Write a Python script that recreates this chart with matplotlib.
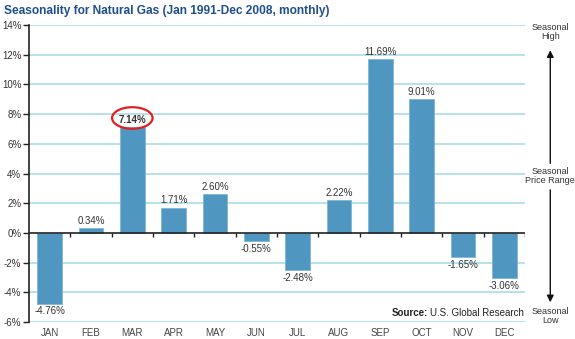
import matplotlib
matplotlib.use("Agg")
import matplotlib.pyplot as plt
from matplotlib.patches import Ellipse, FancyArrowPatch
import numpy as np

months = ["JAN", "FEB", "MAR", "APR", "MAY", "JUN", "JUL", "AUG", "SEP", "OCT", "NOV", "DEC"]
values = [-4.76, 0.34, 7.14, 1.71, 2.60, -0.55, -2.48, 2.22, 11.69, 9.01, -1.65, -3.06]
labels = ["-4.76%", "0.34%", "7.14%", "1.71%", "2.60%", "-0.55%", "-2.48%", "2.22%", "11.69%", "9.01%", "-1.65%", "-3.06%"]
yticks = [-6, -4, -2, 0, 2, 4, 6, 8, 10, 12, 14]
title = "Seasonality for Natural Gas (Jan 1991-Dec 2008, monthly)"
highlight = "MAR"

plt.rcParams["font.family"] = ["Liberation Sans", "DejaVu Sans"]

fig = plt.figure(figsize=(5.75, 3.39), dpi=100)
ax = fig.add_axes([0.0504, 0.0501, 0.8626, 0.8761])

x = np.arange(len(months))
bar_color = "#4f97c0"
ax.bar(x, values, width=0.6, color=bar_color, edgecolor="#7fb8d6", linewidth=0.6, zorder=3)

ax.set_xlim(-0.5, len(months) - 0.5)
ax.set_ylim(-6, 14)
ax.set_yticks(yticks)
ax.set_yticklabels([f"{t}%" for t in yticks], fontsize=7, color="#333333")
for t in yticks:
    if t != 0:
        ax.axhline(t, color="#a9dbe7", linewidth=1.2, zorder=1)
ax.axhline(0, color="#222222", linewidth=1.2, zorder=4)

bounds = np.arange(len(months) + 1) - 0.5
ax.vlines(bounds[1:], -0.25, 0, color="#222222", linewidth=1.0, zorder=4)

ax.set_xticks(x)
ax.set_xticklabels(months, fontsize=7, color="#444444")
ax.tick_params(axis="x", length=0, pad=4)
ax.tick_params(axis="y", length=4, width=1, color="#222222", pad=1.5)

for s in ["top", "right", "bottom"]:
    ax.spines[s].set_visible(False)
ax.spines["left"].set_color("#222222")
ax.spines["left"].set_linewidth(1.2)

hi = months.index(highlight)
for i, (xi, v, lab) in enumerate(zip(x, values, labels)):
    fw = "bold" if i == hi else "normal"
    if v >= 0:
        ax.annotate(lab, (xi, v), xytext=(0, 1.5), textcoords="offset points",
                    ha="center", va="bottom", fontsize=7, color="#333333", zorder=5,
                    fontweight=fw)
    else:
        ax.annotate(lab, (xi, v), xytext=(0, -2), textcoords="offset points",
                    ha="center", va="top", fontsize=7, color="#333333", zorder=5)

ax.add_patch(Ellipse((hi, values[hi] + 0.6), 0.98, 1.45, fill=False,
                     edgecolor="#e02020", linewidth=1.6, zorder=6))

fig.text(0.007, 0.968, title, fontsize=8.6, fontweight="bold", color="#1f4e8c",
         ha="left", va="center")

# Source
src = ax.text(0.998, 0.012, "U.S. Global Research", transform=ax.transAxes, ha="right",
              va="bottom", fontsize=7, color="#222222")
fig.canvas.draw()
bb = src.get_window_extent(renderer=fig.canvas.get_renderer())
fig.text(bb.x0 / fig.bbox.width - 0.004, bb.y0 / fig.bbox.height, "Source:", ha="right",
         va="bottom", fontsize=7, fontweight="bold", color="#222222")

# Right annotation
xr = 0.957
for yy, txt in [(0.905, "Seasonal\nHigh"), (0.48, "Seasonal\nPrice Range"), (0.068, "Seasonal\nLow")]:
    fig.text(xr, yy, txt, ha="center", va="center", fontsize=6.5,
             color="#333333", linespacing=0.95)
fig.add_artist(FancyArrowPatch((xr, 0.51), (xr, 0.86),
               transform=fig.transFigure, arrowstyle="-|>,head_length=4,head_width=2",
               color="#111111", linewidth=1))
fig.add_artist(FancyArrowPatch((xr, 0.448), (xr, 0.10),
               transform=fig.transFigure, arrowstyle="-|>,head_length=4,head_width=2",
               color="#111111", linewidth=1))

fig.savefig("out.png", dpi=100, facecolor="white")
